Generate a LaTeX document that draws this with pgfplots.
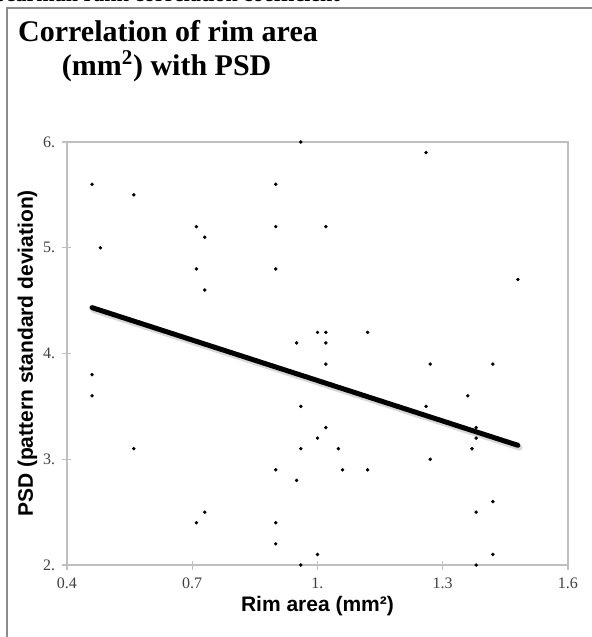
\documentclass[border=0pt]{standalone}
\usepackage{fontspec}
\setmainfont{Liberation Serif}
\setsansfont{Liberation Sans}
\usepackage{pgfplots}
\pgfplotsset{compat=1.18}
\definecolor{axisgray}{HTML}{BFBFBF}
\definecolor{framegray}{HTML}{8C8C8C}
\definecolor{ticktext}{HTML}{404040}

\begin{document}
\begin{tikzpicture}
% heading of the page above, only its lower part shows
\node[font=\bfseries\fontsize{16.5}{19}\selectfont, anchor=base east, inner sep=0pt] at (255pt,-1.2pt) {Spearman rank correlation coefficient};
\draw[framegray, line width=1.1pt] (5.25pt,-480pt) -- (5.25pt,-6pt) -- (446pt,-6pt);
% chart title
\node[font=\bfseries\fontsize{22.5}{27}\selectfont, anchor=base, inner sep=0pt] at (126pt,-31.3pt) {Correlation of rim area};
\node[font=\bfseries\fontsize{22.5}{27}\selectfont, anchor=base, inner sep=0pt] at (125pt,-56.25pt) {(mm\textsuperscript{2}) with PSD};

\begin{axis}[
    at={(50.25pt,-423.75pt)}, anchor=south west,
    width=375.75pt, height=317.25pt, scale only axis,
    xmin=0.4, xmax=1.6, ymin=2, ymax=6,
    xtick={0.4,0.7,1.0,1.3,1.6}, xticklabels={0.4,0.7,1.,1.3,1.6},
    ytick={2,3,4,5,6}, yticklabels={2.,3.,4.,5.,6.},
    axis line style={axisgray, line width=1.1pt},
    tick pos=left, tick align=center, major tick length=6.75pt,
    major tick style={axisgray, line width=1.1pt},
    tick label style={font=\fontsize{12}{14}\selectfont, text=ticktext},
    xticklabel style={yshift=-3pt},
    yticklabel style={xshift=-2pt},
    xlabel={Rim area (mm²)},
    ylabel={PSD (pattern standard deviation)},
    label style={font=\sffamily\bfseries\fontsize{15.75}{18}\selectfont},
    xlabel style={at={(axis description cs:0.5,0)}, anchor=base, yshift=-34.5pt},
    ylabel style={at={(axis description cs:-0.0679,0.5)}, anchor=base},
    clip=false,
]
\addplot[only marks, mark=*, mark size=1.1pt, black] table {
x y
0.46 5.6
0.46 3.8
0.46 3.6
0.48 5.0
0.56 5.5
0.56 3.1
0.71 5.2
0.71 4.8
0.71 2.4
0.73 5.1
0.73 4.6
0.73 2.5
0.90 5.6
0.90 5.2
0.90 4.8
0.90 2.9
0.90 2.4
0.90 2.2
0.96 6.0
0.95 4.1
0.96 3.5
0.96 3.1
0.95 2.8
0.96 2.0
1.00 4.2
1.00 3.2
1.00 2.1
1.02 5.2
1.02 4.2
1.02 4.1
1.02 3.9
1.02 3.3
1.05 3.1
1.06 2.9
1.12 4.2
1.12 2.9
1.26 5.9
1.27 3.9
1.26 3.5
1.27 3.0
1.36 3.6
1.37 3.1
1.38 3.3
1.38 3.2
1.38 2.5
1.38 2.0
1.42 3.9
1.42 2.6
1.42 2.1
1.48 4.7
};
% trend line with its soft shadow
\addplot[gray!60, opacity=0.5, line width=4.5pt, line cap=round, xshift=1.2pt, yshift=-1.8pt] coordinates {(0.46,4.434) (1.48,3.132)};
\addplot[black, line width=3.75pt, line cap=round] coordinates {(0.46,4.434) (1.48,3.132)};
\end{axis}
\pgfresetboundingbox
\useasboundingbox (0pt,0pt) rectangle (444pt,-477.75pt);
\end{tikzpicture}
\end{document}
